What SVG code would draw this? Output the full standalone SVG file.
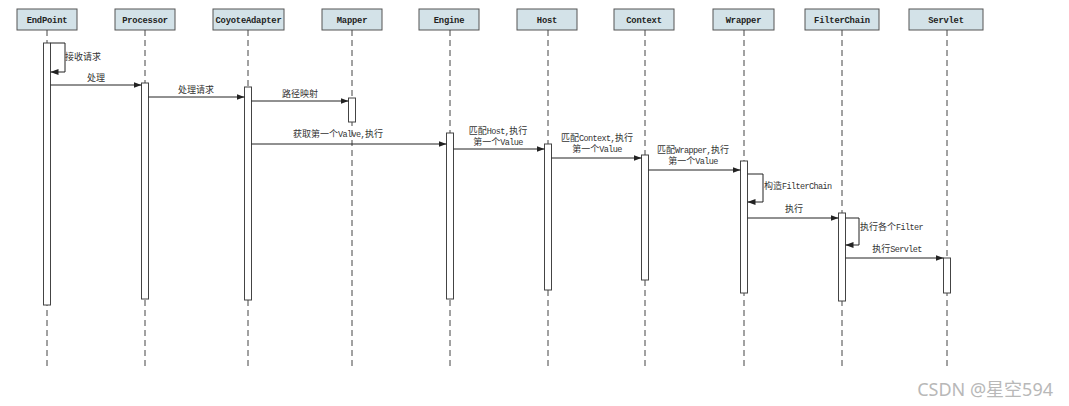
<svg xmlns="http://www.w3.org/2000/svg" width="1069" height="406" viewBox="0 0 1069 406">
<style>
.hdr rect{fill:#d3e2e8;stroke:#555;stroke-width:1}
.hdr text{font-family:"Liberation Mono",monospace;font-weight:bold;font-size:8.8px;fill:#222;text-anchor:middle;letter-spacing:-0.2px}
.life{stroke:#444;stroke-width:1;stroke-dasharray:6 4;fill:none}
.act{fill:#fff;stroke:#444;stroke-width:1}
.msg{stroke:#222;stroke-width:1;fill:none;marker-end:url(#arr)}
.lbl{font-family:"Noto Sans CJK SC","Liberation Mono",monospace;font-size:9px;fill:#333}
.lbl .l{font-family:"Liberation Mono",monospace;font-size:8.5px;letter-spacing:-0.6px}
.c{text-anchor:middle}
.wm{font-family:"Noto Sans","Noto Sans CJK SC",sans-serif;font-size:18px;fill:#b8b8b8;text-anchor:end}
</style>
<defs>
<marker id="arr" viewBox="0 0 8 6" refX="8" refY="3" markerWidth="8" markerHeight="6" markerUnits="userSpaceOnUse" orient="auto">
<path d="M0,0 L8,3 L0,6 Z" fill="#222"/>
</marker>
</defs>
<rect x="0" y="0" width="1069" height="406" fill="#fff"/>

<g id="EndPoint">
<g class="hdr"><rect x="17" y="9" width="60" height="21"/><text x="47" y="22.5">EndPoint</text></g>
<line class="life" x1="47" y1="30" x2="47" y2="368"/>
<rect class="act" x="43.5" y="43" width="7" height="262"/>
</g>
<g id="Processor">
<g class="hdr"><rect x="115" y="9" width="60" height="21"/><text x="145" y="22.5">Processor</text></g>
<line class="life" x1="145" y1="30" x2="145" y2="368"/>
<rect class="act" x="141.5" y="83" width="7" height="216"/>
</g>
<g id="CoyoteAdapter">
<g class="hdr"><rect x="213" y="9" width="71" height="21"/><text x="248.5" y="22.5">CoyoteAdapter</text></g>
<line class="life" x1="248" y1="30" x2="248" y2="368"/>
<rect class="act" x="244.5" y="87" width="7" height="213"/>
</g>
<g id="Mapper">
<g class="hdr"><rect x="322" y="9" width="60" height="21"/><text x="352" y="22.5">Mapper</text></g>
<line class="life" x1="352" y1="30" x2="352" y2="368"/>
<rect class="act" x="348.5" y="98" width="7" height="24"/>
</g>
<g id="Engine">
<g class="hdr"><rect x="419" y="9" width="60" height="21"/><text x="449" y="22.5">Engine</text></g>
<line class="life" x1="450" y1="30" x2="450" y2="368"/>
<rect class="act" x="446.5" y="133" width="7" height="166"/>
</g>
<g id="Host">
<g class="hdr"><rect x="517" y="9" width="60" height="21"/><text x="547" y="22.5">Host</text></g>
<line class="life" x1="548" y1="30" x2="548" y2="368"/>
<rect class="act" x="544.5" y="144" width="7" height="146"/>
</g>
<g id="Context">
<g class="hdr"><rect x="614" y="9" width="60" height="21"/><text x="644" y="22.5">Context</text></g>
<line class="life" x1="645" y1="30" x2="645" y2="368"/>
<rect class="act" x="641.5" y="155" width="7" height="125"/>
</g>
<g id="Wrapper">
<g class="hdr"><rect x="713" y="9" width="61" height="21"/><text x="743.5" y="22.5">Wrapper</text></g>
<line class="life" x1="744" y1="30" x2="744" y2="368"/>
<rect class="act" x="740.5" y="161" width="7" height="132"/>
</g>
<g id="FilterChain">
<g class="hdr"><rect x="805" y="9" width="74" height="21"/><text x="842" y="22.5">FilterChain</text></g>
<line class="life" x1="842" y1="30" x2="842" y2="368"/>
<rect class="act" x="838.5" y="213" width="7" height="88"/>
</g>
<g id="Servlet">
<g class="hdr"><rect x="909" y="9" width="74" height="21"/><text x="946" y="22.5">Servlet</text></g>
<line class="life" x1="947" y1="30" x2="947" y2="368"/>
<rect class="act" x="943.5" y="258" width="7" height="35"/>
</g>

<g id="connectors">
<path class="msg" d="M50.5,43 H65 V72 H50.5"/>
<text class="lbl" x="65" y="60">接收请求</text>
<line class="msg" x1="50.5" y1="85" x2="141.5" y2="85"/>
<text class="lbl c" x="96" y="81">处理</text>
<line class="msg" x1="148.5" y1="97" x2="244.5" y2="97"/>
<text class="lbl c" x="196" y="93">处理请求</text>
<line class="msg" x1="251.5" y1="101" x2="348.5" y2="101"/>
<text class="lbl c" x="300" y="97">路径映射</text>
<line class="msg" x1="251.5" y1="144" x2="446.5" y2="144"/>
<text class="lbl c" x="338" y="137">获取第一个<tspan class="l">Valve,</tspan>执行</text>
<line class="msg" x1="453.5" y1="149" x2="544.5" y2="149"/>
<text class="lbl c" x="498" y="134">匹配<tspan class="l">Host,</tspan>执行</text>
<text class="lbl c" x="498" y="145">第一个<tspan class="l">Value</tspan></text>
<line class="msg" x1="551.5" y1="158" x2="641.5" y2="158"/>
<text class="lbl c" x="597" y="141">匹配<tspan class="l">Context,</tspan>执行</text>
<text class="lbl c" x="597" y="152">第一个<tspan class="l">Value</tspan></text>
<line class="msg" x1="648.5" y1="170" x2="740.5" y2="170"/>
<text class="lbl c" x="693" y="153">匹配<tspan class="l">Wrapper,</tspan>执行</text>
<text class="lbl c" x="693" y="164">第一个<tspan class="l">Value</tspan></text>
<path class="msg" d="M747.5,174 H763 V202 H747.5"/>
<text class="lbl" x="764" y="189">构造<tspan class="l">FilterChain</tspan></text>
<line class="msg" x1="747.5" y1="218" x2="838.5" y2="218"/>
<text class="lbl c" x="794" y="212">执行</text>
<path class="msg" d="M845.5,218 H859 V245 H845.5"/>
<text class="lbl" x="860" y="230">执行各个<tspan class="l">Filter</tspan></text>
<line class="msg" x1="845.5" y1="258" x2="943.5" y2="258"/>
<text class="lbl c" x="897" y="252">执行<tspan class="l">Servlet</tspan></text>
</g>

<text class="wm" x="1053" y="396">CSDN @星空594</text>
</svg>
